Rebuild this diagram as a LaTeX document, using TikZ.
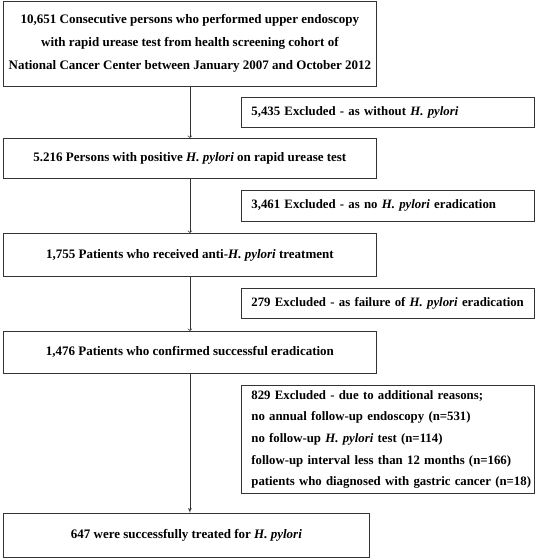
\documentclass[tikz,border=0pt]{standalone}
\usepackage{fontspec}
\setmainfont{Liberation Serif}
\usepackage{tikz}
\usetikzlibrary{arrows,shapes}
\newcommand{\hp}{\textit{H. pylori}}
\tikzstyle{stage}=[draw=black!80,line width=0.8pt,anchor=north west,align=center,inner sep=0pt,font=\fontsize{13}{23}\selectfont\bfseries]
\tikzstyle{excl}=[draw=black!80,line width=0.8pt,anchor=north west,align=left,inner xsep=5pt,inner ysep=0pt,text width=283pt,execute at begin node={\leftskip=5pt\rightskip=-12pt plus 1fil},font=\fontsize{12.8}{21.7}\selectfont\bfseries]
\tikzstyle{edge} = [draw,line width=0.7pt,black!80]

\begin{document}
\begin{tikzpicture}[x=1pt,y=-1pt]
      \tikzset{edge/.append style = {->}}
      \useasboundingbox (0,0) rectangle (536,558);
      \node[stage,minimum width=373pt,minimum height=85pt] (all) at (3,0.5)
        {10,651 Consecutive persons who performed upper endoscopy\\
         with rapid urease test from health screening cohort of\\
         National Cancer Center between January 2007 and October 2012};
      \node[excl,minimum height=30pt] (ex1) at (241,97) {5,435 Excluded - as without \hp};
      \node[stage,minimum width=373pt,minimum height=40pt] (pos) at (3,138)
        {5.216 Persons with positive \hp{} on rapid urease test};
      \node[excl,minimum height=31pt] (ex2) at (241,190) {3,461 Excluded - as no \hp{} eradication};
      \node[stage,minimum width=373pt,minimum height=43pt] (treat) at (3,233)
        {1,755 Patients who received anti-\hp{} treatment};
      \node[excl,minimum height=30pt] (ex3) at (241,288) {279 Excluded - as failure of \hp{} eradication};
      \node[stage,minimum width=373pt,minimum height=42pt] (succ) at (3,331)
        {1,476 Patients who confirmed successful eradication};
      \node[excl,minimum height=108pt] (ex4) at (241,385)
        {829 Excluded - due to additional reasons;\\
         no annual follow-up endoscopy (n=531)\\
         no follow-up \hp{} test (n=114)\\
         follow-up interval less than 12 months (n=166)\\
         patients who diagnosed with gastric cancer (n=18)};
      \node[stage,minimum width=366pt,minimum height=44pt] (final) at (3,513)
        {647 were successfully treated for \hp};
      \draw[edge] (all) -- (pos);
      \draw[edge] (pos) -- (treat);
      \draw[edge] (treat) -- (succ);
      \draw[edge,>=latex'] (succ) -- (succ.south |- final.north);
    \end{tikzpicture}
\end{document}
